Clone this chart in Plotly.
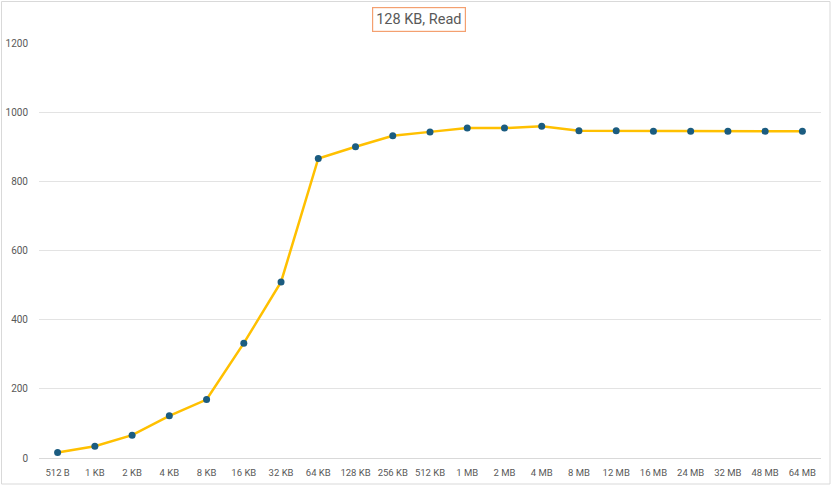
import plotly.graph_objects as go

categories = ["512 B", "1 KB", "2 KB", "4 KB", "8 KB", "16 KB", "32 KB", "64 KB",
              "128 KB", "256 KB", "512 KB", "1 MB", "2 MB", "4 MB", "8 MB", "12 MB",
              "16 MB", "24 MB", "32 MB", "48 MB", "64 MB"]
read_values = [16, 34, 66, 122, 169, 332, 509, 866, 900, 932, 943,
               954, 954, 959, 946, 946, 945, 945, 945, 945, 945]
y_ticks = [0, 200, 400, 600, 800, 1000, 1200]
title_text = "128 KB, Read"

ML, MR, MT, MB = 39, 14, 43, 28
PW, PH = 835 - ML - MR, 486 - MT - MB

fig = go.Figure()
fig.add_trace(go.Scatter(
    x=categories, y=read_values, mode="lines+markers",
    line=dict(color="#FFC000", width=2.5),
    marker=dict(color="#1B5C80", size=7),
    showlegend=False, hoverinfo="x+y",
))

fig.update_layout(
    width=835, height=486,
    margin=dict(l=ML, r=MR, t=MT, b=MB, autoexpand=False),
    paper_bgcolor="white", plot_bgcolor="white",
    font=dict(family="Roboto, Liberation Sans, sans-serif", color="#595959"),
    xaxis=dict(
        type="category", range=[-0.5, len(categories) - 0.5],
        showgrid=False, zeroline=False, automargin=False,
        showline=True, linecolor="#D9D9D9", linewidth=1,
        tickfont=dict(size=9.5, color="#595959"),
        ticks="", ticklabelstandoff=6,
    ),
    yaxis=dict(
        range=[0, 1200], tickvals=y_ticks, showgrid=True, gridcolor="#E3E3E3",
        zeroline=False, showline=False, automargin=False,
        tickfont=dict(size=10, color="#595959"),
        ticks="", ticklabelstandoff=10,
    ),
    annotations=[dict(
        text=title_text, xref="paper", yref="paper", x=(419 - ML) / PW, y=1.0,
        yanchor="middle", yshift=24, showarrow=False,
        font=dict(size=14.5, color="#595959"),
        bordercolor="#F4A070", borderwidth=1.2, borderpad=3, bgcolor="white",
    )],
    shapes=[dict(
        type="rect", xref="paper", yref="paper",
        x0=(1.5 - ML) / PW, x1=(830 - ML) / PW,
        y0=-(484 - (486 - MB)) / PH, y1=1 + (MT - 1.5) / PH,
        line=dict(color="#D9D9D9", width=1),
    )],
)

fig.write_html("out.html", config={"displayModeBar": False},
               post_script="document.body.style.margin='0';document.body.style.overflow='hidden';")
